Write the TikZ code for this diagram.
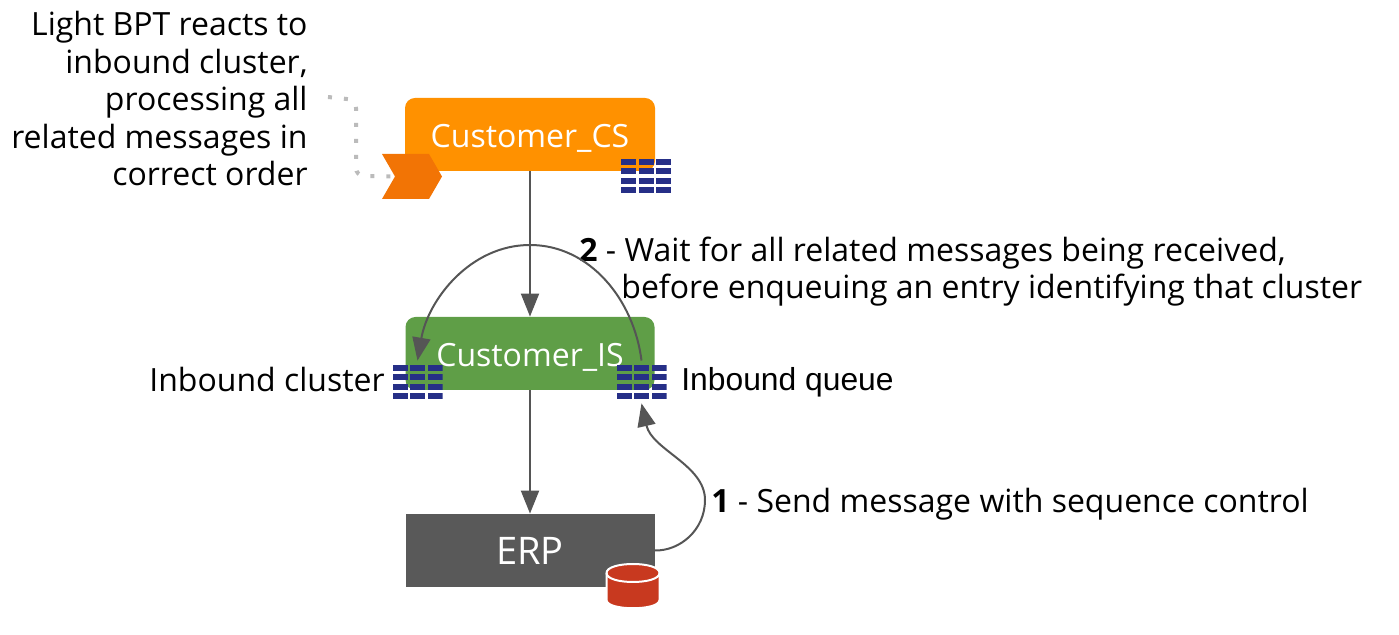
\documentclass[tikz,border=0pt]{standalone}
\usepackage{fontspec}
\setmainfont{Open Sans}
\newfontfamily\queuefont{Liberation Sans}
\usetikzlibrary{arrows.meta,shapes.symbols}
\definecolor{ClusterInk}{HTML}{262F87}
\definecolor{TierOrange}{HTML}{FF9100}
\definecolor{TierGreen}{HTML}{5F9E47}
\definecolor{TierGrey}{HTML}{595959}
\definecolor{ChevronOrange}{HTML}{F27405}
\definecolor{StoreRed}{HTML}{C8391F}
\definecolor{FlowInk}{HTML}{555555}
\definecolor{NoteDots}{HTML}{BBBBBB}
\tikzset{
  figure/.style={x=0.5pt,y=-0.5pt,font=\fontsize{16}{18.75}\selectfont,text=black},
  tier/.style={minimum width=124.5pt,minimum height=36.5pt,inner sep=0pt,text=white,
    text height=13pt,text depth=0pt},
  softtier/.style={tier,rounded corners=5pt},
  caption/.style={inner sep=0pt,align=left},
  queueicon/.style={minimum width=25pt,minimum height=17pt,inner sep=0pt,path picture={
    \foreach \col in {0,1,2}
      \foreach \row in {0,1,2,3}
        \fill[ClusterInk] ([xshift=\col*8.75pt,yshift=-\row*4.7pt]path picture bounding box.north west)
          rectangle ++(7.5pt,-3pt);
  }},
  flow/.style={-{Triangle[length=11.5pt,width=9pt]},line width=1pt,draw=FlowInk},
  notelink/.style={draw=NoteDots,line width=2pt,dash pattern=on 2pt off 6pt,rounded corners=4pt},
}

\begin{document}
\begin{tikzpicture}[figure]
  \useasboundingbox (0,0) rectangle (1399,635);

  \node[softtier,fill=TierOrange,minimum width=125pt] (CS) at (530,134.5) {Customer\_CS};
  \node[softtier,fill=TierGreen] (IS) at (530,353.5) {Customer\_IS};
  \node[tier,fill=TierGrey,font=\fontsize{19}{22}\selectfont,text height=14.5pt] (ERP) at (530,550.5) {ERP};

  \node[signal,signal to=east,signal from=west,signal pointer angle=120,fill=ChevronOrange,
        minimum width=30pt,minimum height=22.5pt,inner sep=0pt] (lightBPT) at (412,176.5) {};
  \node[queueicon] (CSqueue) at (646,176) {};
  \node[queueicon] (IScluster) at (417.5,382) {};
  \node[queueicon] (ISqueue) at (641.5,382) {};
  % store on the ERP corner
  \filldraw[fill=StoreRed,draw=white,line width=1pt] (606.5,573) .. controls (606.5,561) and (659.5,561) .. (659.5,573)
    -- (659.5,600) .. controls (659.5,611) and (606.5,611) .. (606.5,600) -- cycle;
  \draw[white,line width=1pt] (606.5,573) .. controls (606.5,585) and (659.5,585) .. (659.5,573);

  \node[caption,anchor=base east,align=right] (noteBPT) at (308,186)
    {Light BPT reacts to\\inbound cluster,\\processing all\\related messages in\\correct order};
  \node[caption,anchor=base east] (labelCluster) at (385,391.5) {Inbound cluster};
  \node[caption,anchor=base west,font=\queuefont\fontsize{15.9}{18.75}\selectfont] (labelQueue) at (681,391) {Inbound queue};
  \node[caption,anchor=base west] (labelWait) at (579,299)
    {\textbf{2} - Wait for all related messages being received,\\
     \hspace*{21pt}before enqueuing an entry identifying that cluster};
  \node[caption,anchor=base west] (labelSend) at (711,513)
    {\textbf{1} - Send message with sequence control};

  \draw[flow] (CS.south) -- (IS.north);
  \draw[flow] (IS.south) -- (ERP.north);
  \draw[flow] ([yshift=2pt]ISqueue.north) .. controls (634,300) and (590,245) .. (530,245)
    .. controls (470,245) and (428,300) .. ([yshift=2pt]IScluster.north);
  \draw[flow] (ERP.east) .. controls (680,551) and (705,530) .. (705,500)
    .. controls (705,465) and (652,450) .. ([yshift=-2pt]ISqueue.south);

  \coordinate (noteEnd) at (328,97);
  \draw[notelink] (noteEnd) -- (356,100) -- (356,176) -- (lightBPT.west);
\end{tikzpicture}
\end{document}
